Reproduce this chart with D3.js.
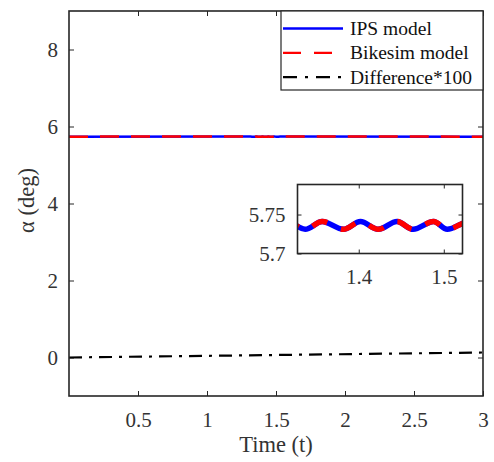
<!doctype html>
<html lang=en>
<head>
  <meta charset=utf-8>
  <title>alpha vs time</title>
  <style>
    html, body { margin: 0; background: #fff; }
    svg { display: block; font-family: "Liberation Serif", "Times New Roman", serif; }
    .axis text { fill: #333; font-size: 21px; }
    .axis line { stroke: #262626; stroke-width: 1; }
    .axis path.domain { display: none; }
    .frame { fill: none; stroke: #262626; stroke-width: 1.6; }
    .legend text { fill: #111; font-size: 19.5px; }
  </style>
  <script src="https://cdn.jsdelivr.net/npm/d3@7"></script>
</head>
<body>
<svg id=chart width=494 height=462></svg>
<script>
  // values
  const time      = [0, 1.315, 1.337, 1.357, 1.382, 1.402, 1.423, 1.445, 1.464, 1.488, 1.504, 1.53, 3]
  const ipsAlpha  = [5.736, 5.741, 5.731, 5.741, 5.731, 5.741, 5.731, 5.741, 5.731, 5.741, 5.731, 5.741, 5.736]
  const bikeAlpha = [5.736, 5.741, 5.731, 5.741, 5.731, 5.741, 5.731, 5.741, 5.731, 5.741, 5.731, 5.741, 5.736]
  const diffTime  = [0, 3]
  const diffAlpha = [0, 0.13]

  const xTicks = [0.5, 1, 1.5, 2, 2.5, 3]
  const yTicks = [0, 2, 4, 6, 8]
  const insetXTicks = [1.4, 1.5]
  const insetYTicks = [5.7, 5.75]
  const legendLabels = ['IPS model', 'Bikesim model', 'Difference*100']

  const serif = '"Liberation Serif", "Times New Roman", serif'
  const svg = d3.select('#chart')

  const mLeft = 69, mRight = 483, mTop = 11, mBottom = 396
  const x = d3.scaleLinear().domain([0, 3]).range([mLeft, mRight])
  const y = d3.scaleLinear().domain([-1, 9]).range([mBottom, mTop])

  const ipsData = time.map((t, i) => ({ t, v: ipsAlpha[i] }))
  const bikeData = time.map((t, i) => ({ t, v: bikeAlpha[i] }))
  const diffData = diffTime.map((t, i) => ({ t, v: diffAlpha[i] }))

  function addAxis(axis, tx, ty) {
    return svg.append('g').attr('class', 'axis')
      .attr('transform', `translate(${tx},${ty})`)
      .call(axis)
      .attr('font-family', serif)
      .attr('font-size', null)
  }

  // main axes
  addAxis(d3.axisBottom(x).tickValues(xTicks).tickSize(-5).tickPadding(16).tickFormat(d3.format('')), 0, mBottom)
  addAxis(d3.axisTop(x).tickValues(xTicks).tickSize(-5).tickFormat(''), 0, mTop)
  addAxis(d3.axisLeft(y).tickValues(yTicks).tickSize(-5).tickPadding(11), mLeft, 0)
  addAxis(d3.axisRight(y).tickValues(yTicks).tickSize(-5).tickFormat(''), mRight, 0)

  svg.append('defs').append('clipPath').attr('id', 'clip-main')
    .append('rect').attr('x', mLeft).attr('y', mTop).attr('width', mRight - mLeft).attr('height', mBottom - mTop)

  const line = d3.line().x(d => x(d.t)).y(d => y(d.v)).curve(d3.curveMonotoneX)
  const plot = svg.append('g').attr('clip-path', 'url(#clip-main)')
  plot.append('path').datum(ipsData).attr('d', line)
    .attr('fill', 'none').attr('stroke', '#0000ff').attr('stroke-width', 2.5)
  plot.append('path').datum(bikeData).attr('d', line)
    .attr('fill', 'none').attr('stroke', '#ff0000').attr('stroke-width', 2.5)
    .attr('stroke-dasharray', '19,12')
  plot.append('path').datum(diffData).attr('d', line)
    .attr('fill', 'none').attr('stroke', '#000').attr('stroke-width', 2.2)
    .attr('stroke-dasharray', '13,7,3,7')

  svg.append('rect').attr('class', 'frame')
    .attr('x', mLeft).attr('y', mTop).attr('width', mRight - mLeft).attr('height', mBottom - mTop)

  svg.append('text').attr('x', (mLeft + mRight) / 2).attr('y', 452)
    .attr('text-anchor', 'middle').attr('font-size', 22.5).attr('fill', '#333')
    .text('Time (t)')
  svg.append('text').attr('transform', `translate(34,${(mTop + mBottom) / 2 - 3}) rotate(-90)`)
    .attr('text-anchor', 'middle').attr('font-size', 22.5).attr('fill', '#333')
    .text('α (deg)')

  // legend
  const lg = svg.append('g').attr('class', 'legend')
  lg.append('rect').attr('x', 281).attr('y', mTop).attr('width', mRight - 281).attr('height', 79)
    .attr('fill', '#fff').attr('stroke', '#262626').attr('stroke-width', 1.2)
  const legendStyles = [
    { stroke: '#0000ff', dash: null },
    { stroke: '#ff0000', dash: '18,13' },
    { stroke: '#000', dash: '14,8,3,8' },
  ]
  legendLabels.forEach((label, i) => {
    const ly = 28.5 + i * 24.3
    lg.append('line').attr('x1', 283).attr('x2', 343).attr('y1', ly).attr('y2', ly)
      .attr('stroke', legendStyles[i].stroke).attr('stroke-width', 2.3)
      .attr('stroke-dasharray', legendStyles[i].dash)
    lg.append('text').attr('x', 350).attr('y', ly + 6.5).text(label)
  })

  // inset
  const il = 297.5, ir = 462.5, it = 184.5, ib = 253.5
  const xi = d3.scaleLinear().domain([1.328, 1.522]).range([il, ir])
  const yi = d3.scaleLinear().domain([5.7, 5.7885]).range([ib, it])

  svg.append('rect').attr('x', il).attr('y', it).attr('width', ir - il).attr('height', ib - it).attr('fill', '#fff')
  svg.append('defs').append('clipPath').attr('id', 'clip-inset')
    .append('rect').attr('x', il).attr('y', it).attr('width', ir - il).attr('height', ib - it)

  addAxis(d3.axisBottom(xi).tickValues(insetXTicks).tickSize(-4).tickPadding(16).tickFormat(d3.format('')), 0, ib)
  addAxis(d3.axisTop(xi).tickValues(insetXTicks).tickSize(-4).tickFormat(''), 0, it)
  addAxis(d3.axisLeft(yi).tickValues(insetYTicks).tickSize(-4).tickPadding(12).tickFormat(d3.format('')), il, 0)
  addAxis(d3.axisRight(yi).tickValues(insetYTicks).tickSize(-4).tickFormat(''), ir, 0)

  const lineI = d3.line().x(d => xi(d.t)).y(d => yi(d.v)).curve(d3.curveMonotoneX)
  const inset = svg.append('g').attr('clip-path', 'url(#clip-inset)')
  inset.append('path').datum(ipsData).attr('d', lineI)
    .attr('fill', 'none').attr('stroke', '#0000ff').attr('stroke-width', 5.5)
  inset.append('path').datum(bikeData).attr('d', lineI)
    .attr('fill', 'none').attr('stroke', '#ff0000').attr('stroke-width', 5.5)
    .attr('stroke-dasharray', '16,15')

  svg.append('rect').attr('class', 'frame')
    .attr('x', il).attr('y', it).attr('width', ir - il).attr('height', ib - it)
</script>
</body>
</html>
